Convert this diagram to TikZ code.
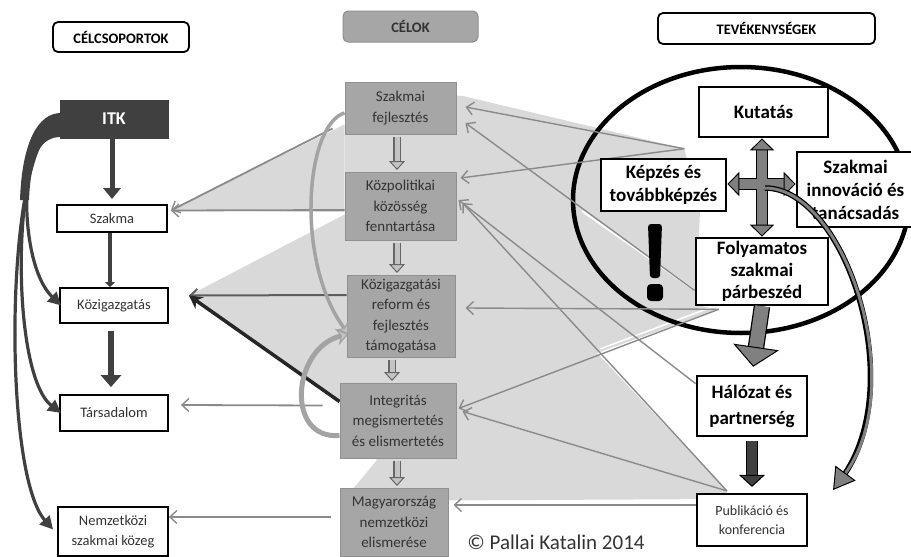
\documentclass[tikz,border=0pt]{standalone}
\usepackage{fontspec}
\setmainfont{Carlito}
\usetikzlibrary{arrows.meta,calc}
\pgfdeclarelayer{bg}
\pgfsetlayers{bg,main}
\definecolor{boxg}{HTML}{A6A6A6}
\definecolor{boxgd}{HTML}{909090}
\definecolor{fan}{HTML}{D9D9D9}
\definecolor{itkc}{HTML}{404040}
\definecolor{txtg}{HTML}{333333}
\definecolor{thin}{HTML}{8A8A8A}
\definecolor{crossg}{HTML}{808080}
\definecolor{curveg}{HTML}{A3A3A3}
\definecolor{hollowd}{HTML}{666666}
\definecolor{hollowf}{HTML}{C4C4C4}
\begin{document}
\begin{tikzpicture}[x=1pt,y=-1pt,
  lbox/.style={draw=black, line width=1.8pt, fill=white, inner sep=0pt, align=center, text=txtg, font=\fontsize{14.5}{20}\selectfont},
  cbox/.style={draw=boxgd, line width=1pt, fill=boxg, inner sep=0pt, align=center, text=txtg, font=\fontsize{15}{20.5}\selectfont},
  rbox/.style={draw=black, line width=2.6pt, fill=white, inner sep=0pt, align=center, font=\bfseries\fontsize{19}{23}\selectfont},
  hdr/.style={draw=black, line width=1.8pt, rounded corners=5pt, fill=white, inner sep=0pt, font=\bfseries\fontsize{14.5}{16}\selectfont},
  thinarr/.style={draw=thin, line width=1.4pt, -{Straight Barb[length=7pt,width=13pt,line width=1.4pt]}},
  darkarr/.style={draw=itkc, line width=5pt, -{Triangle[length=11pt,width=17pt]}},
  itkcurve/.style={draw=itkc, line width=3.2pt, -{Triangle[length=13pt,width=13pt]}},
  hollowout/.style={draw=hollowd, line width=8pt, shorten >=6pt},
  hollowin/.style={draw=hollowf, line width=5pt, shorten >=1.5pt, -{Triangle[length=9pt,width=16pt,fill=hollowf,color=hollowd,line width=1pt]}},
  crossout/.style={draw=black, line width=12pt, shorten >=9pt},
  crossin/.style={draw=crossg, line width=9.5pt, -{Triangle[length=12pt,width=24pt,fill=crossg,color=black,line width=0.9pt]}}
]
\useasboundingbox (0,0) rectangle (911,557);

% headers
\node[hdr, minimum width=136pt, minimum height=30pt] (hcel) at (121,37) {CÉLCSOPORTOK};
\node[hdr, draw=boxgd, line width=1pt, fill=boxg, text=txtg, minimum width=135pt, minimum height=31pt] (hcelok) at (410.5,26.5) {CÉLOK};
\node[hdr, minimum width=217pt, minimum height=31pt] (htev) at (766.5,28.5) {TEVÉKENYSÉGEK};

% left column
\node[draw=itkc, fill=itkc, text=white, font=\bfseries\fontsize{18}{20}\selectfont, minimum width=108pt, minimum height=38pt, inner sep=0pt] (itk) at (114,119) {ITK};
\node[lbox, minimum width=110pt, minimum height=27pt] (szakma) at (112,218.5) {Szakma};
\node[lbox, minimum width=108pt, minimum height=35pt] (kozig) at (114,305.5) {Közigazgatás};
\node[lbox, minimum width=108pt, minimum height=36pt] (tars) at (114,413) {Társadalom};
\node[lbox, minimum width=110pt, minimum height=49pt] (nemz) at (113,531.5) {Nemzetközi\\szakmai közeg};

% center column
\node[cbox, minimum width=111pt, minimum height=52pt] (c1) at (400.5,108) {Szakmai\\fejlesztés};
\node[cbox, minimum width=111pt, minimum height=68pt] (c2) at (400.5,206) {Közpolitikai\\közösség\\fenntartása};
\node[cbox, minimum width=108pt, minimum height=82pt] (c3) at (401,316) {Közigazgatási\\reform és\\fejlesztés\\támogatása};
\node[cbox, minimum width=116pt, minimum height=75pt] (c4) at (398,420.5) {Integritás\\megismertetés\\és elismertetés};
\node[cbox, minimum width=108pt, minimum height=68pt] (c5) at (394,522) {Magyarország\\nemzetközi\\elismerése};

% right column
\node[rbox, minimum width=129pt, minimum height=50pt] (kut) at (763.5,112) {Kutatás};
\node[rbox, minimum width=125pt, minimum height=52pt] (kep) at (663.5,185) {Képzés és\\továbbképzés};
\node[rbox, minimum width=117pt, minimum height=75pt] (inn) at (855.5,189.5) {Szakmai\\innováció és\\tanácsadás};
\node[rbox, minimum width=132pt, minimum height=67pt, font=\bfseries\fontsize{19}{22}\selectfont] (fol) at (762,271.5) {Folyamatos\\szakmai\\párbeszéd};
\node[rbox, minimum width=110pt, minimum height=60pt, font=\bfseries\fontsize{19}{26}\selectfont] (hal) at (752,406) {Hálózat és\\partnerség};
\node[lbox, line width=2.2pt, minimum width=110pt, minimum height=52pt, font=\fontsize{14}{19}\selectfont] (pub) at (752,520) {Publikáció és\\konferencia};

\node[text=txtg, font=\fontsize{21}{24}\selectfont, inner sep=0pt] (copy) at (556,542) {© Pallai Katalin 2014};

\coordinate (kp) at ($(kep.north east)+(-43,-9)$);
\coordinate (pubtop) at ($(pub.north west)+(31,-2)$);
\coordinate (folbl) at ($(fol.south west)+(24,3)$);
\coordinate (kozapex) at ($(kozig.east)+(20,-10)$);
\coordinate (szapex) at ($(szakma.east)+(3,-8)$);

\begin{pgfonlayer}{bg}
  % gray fans
  \fill[fan] (szapex) -- ($(c1.south west)+(0,-10)$) -- ($(c2.west)+(0,6)$) -- cycle;
  \fill[fan] (kozapex) -- ($(c2.south west)+(2,-27)$) -- ($(c4.north west)+(7,19)$) -- ($(c4.north west)+(0,19)$) -- cycle;
  \fill[fan] (345,88) -- (463,96) -- (kp) -- (700,211) -- (696,305) -- (folbl) -- (597,353) -- (pubtop) -- (728,499) -- (343,501) -- (377,460) -- (345,440) -- cycle;
  \draw[white, line width=2pt] (582,211) -- (693,289);
  \draw[white, line width=1.5pt] (600,349) -- (712,307);
  % ellipse
  \draw[line width=4.5pt] (741,200) ellipse [x radius=168pt, y radius=133pt];
  % right -> center arrows
  \draw[thinarr] (kp) -- ($(c1.east)+(9,-1)$);
  \draw[thinarr] (kp) -- ($(c2.east)+(4,-28)$);
  \draw[thinarr] ($(fol.west)+(0,19)$) -- ($(c1.east)+(9,15)$);
  \draw[thinarr] ($(hal.north west)+(0,9)$) -- ($(c2.east)+(2,-6)$);
  \draw[thinarr] (pubtop) -- ($(c2.east)+(6,-3)$);
  \draw[thinarr] (folbl) -- ($(c3.east)+(10,-8)$);
  \draw[thinarr] (folbl) -- ($(c4.east)+(2,-12)$);
  \draw[thinarr] (pubtop) -- ($(c4.east)+(6,-9)$);
  \draw[thinarr] ($(pub.west)+(0,-15)$) -- ($(c5.east)+(5,-17)$);
  % center -> left arrows
  \draw[thinarr, line width=1.8pt] ($(c1.south west)+(-12,-6)$) -- (szapex);
  \draw[thinarr, line width=1.8pt] ($(c2.west)+(0,4)$) -- (szapex);
  \draw[draw=itkc!85, line width=2pt, -{Straight Barb[length=7pt,width=13pt,line width=2pt]}] ($(c3.west)+(0,-21)$) -- (kozapex);
  \draw[draw=black!85, line width=3.5pt, -{Stealth[length=13pt,width=14pt]}] ($(c4.north west)+(0,19)$) -- (kozapex);
  \draw[thinarr, line width=1.8pt] ($(c4.west)+(-17,-15)$) -- ($(tars.east)+(12,-8)$);
  \draw[thinarr, line width=1.8pt] ($(c5.west)+(-9,-5)$) -- ($(nemz.east)+(0,-14.5)$);
\end{pgfonlayer}

% exclamation mark
\fill[black, rounded corners=3pt] (648,224) -- (662,224) -- (660,278) -- (650,278) -- cycle;
\fill[black, rounded corners=4pt] (647,284) rectangle (663,301);

% left column dark arrows
\draw[darkarr] ($(itk.south)+(-2,0)$) -- ($(szakma.north)+(0,-5)$);
\draw[draw=itkc, line width=4.5pt, -{Triangle[length=5pt,width=10pt]}] ($(szakma.south)+(-2,0)$) -- ($(kozig.north)+(-4,0)$);
\draw[draw=itkc, line width=6pt, -{Triangle[length=12pt,width=20pt]}] ($(kozig.south)+(-3,7)$) -- ($(tars.north)+(-3,-7)$);
\fill[itkc] (61,113) .. controls (38,113) and (22,142) .. (20,200) -- (29,200) .. controls (31,152) and (42,137) .. (61,137) -- cycle;
\draw[itkcurve] ($(itk.west)+(0,-3)$) .. controls (18,118) and (16,262) .. ($(kozig.west)+(2,0)$);
\draw[itkcurve] ($(itk.west)+(0,2)$) .. controls (12,122) and (8,372) .. ($(tars.west)+(2,0)$);
\draw[itkcurve] ($(itk.west)+(0,6)$) .. controls (6,126) and (0,470) .. ($(nemz.west)+(-4,-2)$);

% center hollow arrows
\draw[hollowout] ($(c1.south)+(-3.5,2)$) -- ($(c2.north)+(-3.5,0)$);
\draw[hollowin] ($(c1.south)+(-3.5,2)$) -- ($(c2.north)+(-3.5,0)$);
\draw[hollowout] ($(c2.south)+(-3.5,2)$) -- ($(c3.north)+(-4,0)$);
\draw[hollowin] ($(c2.south)+(-3.5,2)$) -- ($(c3.north)+(-4,0)$);
\draw[hollowout] ($(c3.south)+(-9,2)$) -- ($(c4.north)+(-6,0)$);
\draw[hollowin] ($(c3.south)+(-9,2)$) -- ($(c4.north)+(-6,0)$);
\draw[hollowout] ($(c4.south)+(-1,2)$) -- ($(c5.north)+(3,0)$);
\draw[hollowin] ($(c4.south)+(-1,2)$) -- ($(c5.north)+(3,0)$);

% gray curved arrows
\draw[draw=curveg, line width=3.5pt, -{Stealth[length=11pt,width=15pt,fill=hollowf,line width=1.2pt]}] ($(c1.west)+(0,5)$) .. controls (305,125) and (295,262) .. ($(c3.west)+(2,18)$);
\draw[draw=curveg, line width=5pt, -{Stealth[length=12pt,width=17pt,fill=hollowf,line width=1.2pt]}] ($(c4.west)+(0,15)$) .. controls (285,440) and (292,348) .. ($(c3.west)+(2,18)$);

% cross arrows
\coordinate (cx) at (762,184);
\draw[crossout] (cx) -- ($(kut.south)+(-1.5,0)$);
\draw[crossout] (cx) -- ($(kep.east)+(0,-1)$);
\draw[crossout] (cx) -- ($(inn.west)+(0,-5.5)$);
\draw[crossout] (cx) -- (fol.north);
\draw[crossin] (cx) -- ($(kut.south)+(-1.5,0)$);
\draw[crossin] (cx) -- ($(kep.east)+(0,-1)$);
\draw[crossin] (cx) -- ($(inn.west)+(0,-5.5)$);
\draw[crossin] (cx) -- (fol.north);

% block arrows right column
\draw[draw=black, line width=16.5pt, shorten >=26pt] (fol.south) -- (hal.north);
\draw[draw=crossg, line width=14pt, shorten >=8pt, -{Triangle[length=20pt,width=46pt,fill=crossg,color=black,line width=1pt]}] (fol.south) -- (hal.north);
\draw[draw=black, line width=11.5pt, shorten <=4pt, shorten >=16pt] (hal.south) -- (pub.north);
\draw[draw=itkc, line width=9.5pt, shorten <=4pt, shorten >=6pt, -{Triangle[length=12pt,width=26pt,fill=itkc,color=black,line width=1pt]}] (hal.south) -- (pub.north);

% curved arrow from cross to publication
\coordinate (cs) at ($(cx)+(3,4)$);
\coordinate (ce) at ($(pub.east)+(25,-30)$);
\draw[draw=black, line width=5.5pt, shorten >=15pt] (cs) .. controls (845,188) and (910,385) .. (ce);
\draw[draw=crossg, line width=3pt, -{Triangle[length=21pt,width=25pt,fill=crossg,color=black,line width=1pt]}] (cs) .. controls (845,188) and (910,385) .. (ce);
\end{tikzpicture}
\end{document}
